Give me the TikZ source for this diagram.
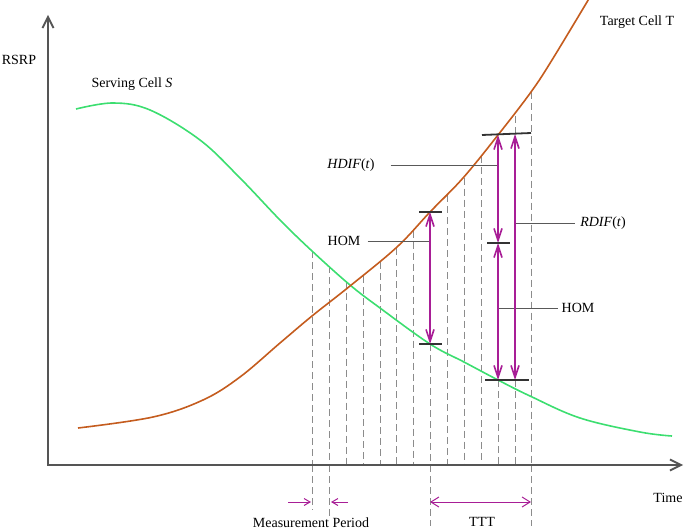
\documentclass[tikz,border=0pt]{standalone}
\usepackage{fontspec}
\setmainfont{Liberation Serif}
\usetikzlibrary{arrows.meta}
\definecolor{servgreen}{RGB}{60,222,112}
\definecolor{targorange}{RGB}{196,92,30}
\definecolor{hompurple}{RGB}{168,30,150}
\definecolor{axisgray}{RGB}{85,85,85}

\begin{document}
\begin{tikzpicture}[x=1pt,y=-1pt,every node/.style={font=\fontsize{14}{16}\selectfont,inner sep=0pt},
  gridline/.style={black!45,line width=.8pt,dash pattern=on 7pt off 4pt},
  leadline/.style={black!65,line width=.8pt},
  levelbar/.style={black!80,line width=1.8pt},
  dif/.style={hompurple,line width=1.6pt,{Straight Barb[length=12pt,width=8pt]}-{Straight Barb[length=12pt,width=8pt]}}]
\useasboundingbox (0,0) rectangle (685,532);
\coordinate (o) at (48,465);
\coordinate (ytip) at (48,15);
\coordinate (xtip) at (683,465);
\foreach \gx/\gy in {312/251,329/266,346/281.5,363/276,380/262,396/248,413/230.5,447/195,464/177.5,481/156,531/92.5}
  \draw[gridline] (\gx,\gy) -- (\gx,465);
\draw[gridline] (430,344) -- (430,465);
\draw[gridline] (498,380) -- (498,465);
\draw[gridline] (515,380) -- (515,465);
\draw[gridline] (515,134) -- (515,113);
\draw[gridline] (312,465) -- (312,510);
\draw[gridline] (329,465) -- (329,516);
\draw[gridline] (430,465) -- (430,526);
\draw[gridline] (531,465) -- (531,526);
\draw[axisgray,line width=1.8pt,{Straight Barb[length=11pt,width=11pt]}-{Straight Barb[length=11pt,width=11pt]}] (ytip) -- (o) -- (xtip);
\draw[servgreen,line width=1.6pt] plot[smooth,tension=.6] coordinates {(76,109) (113,103) (150,110) (200,140) (240,178) (280,220) (312,251) (350,285) (380,308) (430,344) (464,362) (498,380) (530,396) (580,418) (640,432) (672,436)};
\draw[targorange,line width=1.6pt] plot[smooth,tension=.6] coordinates {(78,428) (153,417) (203,400) (240,377) (280,343) (312,316) (350,286) (397,247) (430,212) (463,178) (498,135) (531,92) (552,60) (590,-3)};
\node (rsrp) at (19,60) {RSRP};
\node (scell) at (132,84) {Serving Cell \textit{S}};
\node (tcell) at (637,22) {Target Cell T};
\node (timelbl) at (668,498) {Time};
\node (hom1) at (344,241) {HOM};
\node (hdif) at (351,165) {\textit{HDIF}(\textit{t})};
\node (rdif) at (603,223) {\textit{RDIF}(\textit{t})};
\node (hom2) at (578,308) {HOM};
\node (mperiod) at (311,523) {Measurement Period};
\node (ttt) at (482,522) {TTT};
\coordinate (a1t) at (430,212);
\coordinate (a1b) at (430,344);
\coordinate (a2t) at (498,135);
\coordinate (a2m) at (498,243);
\coordinate (a2b) at (498,380);
\coordinate (a3t) at (515,134);
\coordinate (a3b) at (515,380);
\coordinate (homA) at (430,241);
\coordinate (hdifA) at (498,165);
\coordinate (rdifA) at (515,223);
\coordinate (homB) at (498,308);
\draw[leadline] ([xshift=7pt]hom1.east) -- (homA);
\draw[leadline] ([xshift=16pt]hdif.east) -- (hdifA);
\draw[leadline] (rdifA) -- ([xshift=-5pt]rdif.west);
\draw[leadline] (homB) -- ([xshift=-3pt]hom2.west);
\draw[dif] (a1t) -- (a1b);
\draw[dif] (a3t) -- (a3b);
\draw[dif] (a2t) -- (a2m);
\draw[dif] (a2m) -- (a2b);
\draw[levelbar] ([xshift=-11pt]a1t) -- ([xshift=12pt]a1t);
\draw[levelbar] ([xshift=-11pt]a1b) -- ([xshift=12pt]a1b);
\draw[levelbar] (482,135) -- (531,133);
\draw[levelbar] ([xshift=-11pt]a2m) -- ([xshift=12pt]a2m);
\draw[levelbar] (485,380) -- (529,380);
\coordinate (mpl) at (311,502);
\coordinate (mpr) at (331,502);
\coordinate (tttl) at (430,502);
\coordinate (tttr) at (531,502);
\draw[hompurple,line width=1pt,-{Straight Barb[length=6pt,width=7pt]}] ([xshift=-23pt]mpl) -- (mpl);
\draw[hompurple,line width=1pt,-{Straight Barb[length=6pt,width=7pt]}] ([xshift=17pt]mpr) -- (mpr);
\draw[hompurple,line width=1pt,{Straight Barb[length=8pt,width=10pt]}-{Straight Barb[length=8pt,width=10pt]}] (tttl) -- (tttr);
\end{tikzpicture}
\end{document}
